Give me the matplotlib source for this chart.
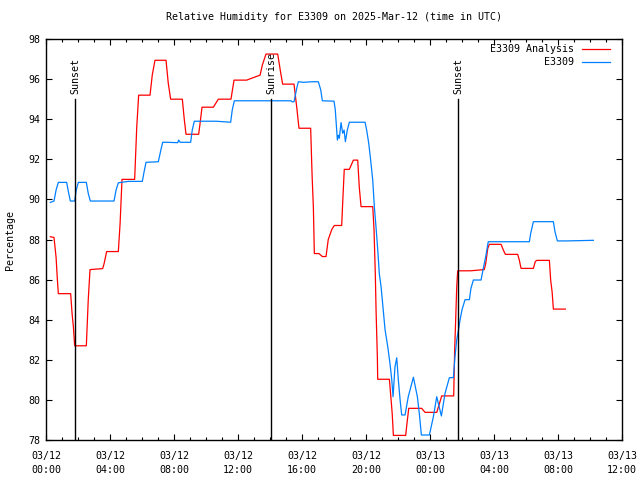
import matplotlib
matplotlib.use("Agg")
import matplotlib.pyplot as plt
from matplotlib.ticker import MultipleLocator

# ====================== 数据 ======================
TITLE = "Relative Humidity for E3309 on 2025-Mar-12 (time in UTC)"
Y_LABEL = "Percentage"

# hours since 03/12 00:00 UTC
analysis_hours = [0.27, 0.50, 0.63, 0.71, 0.77, 1.54, 1.63, 1.71, 1.79, 2.52,
                  2.64, 2.75, 3.54, 3.63, 3.79, 4.52, 4.63, 4.75, 5.54, 5.67,
                  5.79, 6.50, 6.64, 6.81, 7.50, 7.64, 7.79, 8.52, 8.64, 8.75,
                  9.54, 9.63, 9.75, 10.46, 10.77, 11.56, 11.75, 12.54, 13.38, 13.52,
                  13.75, 14.48, 14.67, 14.79, 15.50, 15.67, 15.81, 16.54, 16.63, 16.71,
                  16.77, 17.06, 17.27, 17.50, 17.64, 17.86, 18.02, 18.48, 18.54, 18.64,
                  18.96, 19.21, 19.48, 19.58, 19.69, 20.42, 20.50, 20.58, 20.63, 20.71,
                  20.73, 21.46, 21.56, 21.64, 21.71, 22.48, 22.56, 22.67, 23.48, 23.69,
                  24.42, 24.56, 24.73, 25.48, 25.54, 25.61, 25.67, 25.73, 26.54, 27.39,
                  27.48, 27.61, 27.71, 28.44, 28.58, 28.71, 29.48, 29.58, 29.69, 30.46,
                  30.58, 30.67, 31.46, 31.54, 31.63, 31.71, 32.46]
analysis_rh = [88.14, 88.10, 87.1, 86.0, 85.3, 85.3, 84.3, 83.65, 82.7, 82.7,
               85.0, 86.5, 86.55, 86.8, 87.4, 87.4, 88.8, 91.0, 91.0, 93.6,
               95.2, 95.2, 96.2, 96.94, 96.94, 95.8, 95.0, 95.0, 94.0, 93.25,
               93.25, 93.8, 94.6, 94.6, 95.0, 95.0, 95.95, 95.95, 96.2, 96.7,
               97.25, 97.25, 96.3, 95.75, 95.75, 94.6, 93.55, 93.55, 91.2, 89.6,
               87.3, 87.3, 87.15, 87.15, 88.0, 88.5, 88.7, 88.7, 89.8, 91.5,
               91.5, 91.96, 91.96, 90.6, 89.64, 89.64, 88.5, 86.3, 84.4, 82.1,
               81.03, 81.03, 80.08, 79.28, 78.23, 78.23, 78.83, 79.58, 79.58, 79.38,
               79.38, 79.74, 80.2, 80.2, 82.5, 84.15, 85.65, 86.44, 86.44, 86.5,
               86.8, 87.56, 87.76, 87.76, 87.48, 87.26, 87.26, 86.98, 86.56, 86.56,
               86.9, 86.96, 86.96, 85.98, 85.4, 84.53, 84.53]

obs_hours = [0.27, 0.50, 0.63, 0.77, 1.29, 1.42, 1.52, 1.79, 1.89, 2.02,
             2.52, 2.64, 2.77, 4.25, 4.38, 4.52, 5.14, 6.02, 6.13, 6.25,
             7.02, 7.16, 7.29, 7.54, 8.23, 8.29, 8.38, 9.04, 9.14, 9.27,
             10.63, 11.54, 11.64, 11.77, 15.31, 15.38, 15.50, 15.67, 15.77, 16.08,
             16.64, 17.02, 17.17, 17.27, 18.00, 18.08, 18.13, 18.21, 18.27, 18.33,
             18.44, 18.54, 18.63, 18.71, 18.83, 18.96, 19.94, 20.04, 20.17, 20.29,
             20.42, 20.52, 20.64, 20.75, 20.83, 20.94, 21.04, 21.19, 21.36, 21.50,
             21.61, 21.69, 21.81, 21.92, 22.02, 22.13, 22.23, 22.44, 22.64, 22.96,
             23.21, 23.33, 23.46, 23.96, 24.21, 24.42, 24.71, 24.94, 25.21, 25.46,
             25.56, 25.67, 25.77, 25.88, 26.00, 26.19, 26.46, 26.56, 26.71, 27.19,
             27.33, 27.48, 27.64, 30.21, 30.29, 30.46, 31.71, 31.81, 31.96, 32.54,
             34.21]
obs_rh = [89.85, 89.92, 90.47, 90.85, 90.85, 90.3, 89.92, 89.92, 90.47, 90.85,
          90.85, 90.3, 89.92, 89.92, 90.47, 90.83, 90.9, 90.9, 91.38, 91.85,
          91.88, 92.4, 92.85, 92.85, 92.83, 92.96, 92.85, 92.85, 93.46, 93.9,
          93.9, 93.85, 94.46, 94.92, 94.92, 94.87, 94.87, 95.54, 95.87, 95.84,
          95.87, 95.87, 95.46, 94.92, 94.9, 94.46, 93.88, 92.96, 93.2, 93.05,
          93.83, 93.3, 93.46, 92.88, 93.46, 93.85, 93.85, 93.46, 92.8, 91.96,
          90.97, 89.64, 88.47, 87.3, 86.3, 85.65, 84.8, 83.5, 82.65, 81.8,
          81.0, 80.16, 81.65, 82.1, 81.0, 80.0, 79.25, 79.25, 80.16, 81.13,
          80.16, 79.33, 78.25, 78.25, 79.16, 80.16, 79.2, 80.33, 81.11, 81.11,
          82.15, 83.0, 83.45, 84.0, 84.5, 85.0, 85.0, 85.57, 85.98, 85.98,
          86.56, 87.14, 87.89, 87.89, 88.3, 88.89, 88.89, 88.39, 87.93, 87.93,
          87.96]

sun_hours = [1.83, 14.08, 25.77]
sun_labels = ["Sunset", "Sunrise", "Sunset"]

x_tick_hours = [0, 4, 8, 12, 16, 20, 24, 28, 32, 36]
x_tick_labels = ["03/12\n00:00", "03/12\n04:00", "03/12\n08:00", "03/12\n12:00",
                 "03/12\n16:00", "03/12\n20:00", "03/13\n00:00", "03/13\n04:00",
                 "03/13\n08:00", "03/13\n12:00"]

series_names = ["E3309 Analysis", "E3309"]
series_colors = ["#ff0000", "#0080ff"]
# =================================================

FONT = "DejaVu Sans Mono"
FS = 7.2

fig = plt.figure(figsize=(6.4, 4.8), dpi=100)
ax = fig.add_axes([0.0719, 0.0833, 0.9, 0.8354])

ax.plot(analysis_hours, analysis_rh, color=series_colors[0], lw=0.9)
ax.plot(obs_hours, obs_rh, color=series_colors[1], lw=0.9)

# 日出日落竖线
trans = ax.get_xaxis_transform()
for h, lab in zip(sun_hours, sun_labels):
    ax.plot([h, h], [0, 0.85], color="black", lw=1.0, transform=trans)
    ax.text(h, 0.864, lab, rotation=90, ha="center", va="bottom",
            transform=trans, family=FONT, fontsize=FS)

# 图例（gnuplot 风格：文字在左，线在右）
for i, (name, col) in enumerate(zip(series_names, series_colors)):
    yy = 0.9743 - i * 0.0324
    ax.text(0.9167, yy, name, ha="right", va="center", transform=ax.transAxes,
            family=FONT, fontsize=FS)
    ax.plot([0.9306, 0.979], [yy, yy], color=col, lw=0.9, transform=ax.transAxes)

ax.set_xlim(0, 36)
ax.set_ylim(78, 98)
ax.set_xticks(x_tick_hours)
ax.set_xticklabels(x_tick_labels, family=FONT, fontsize=FS, linespacing=1.45)
ax.xaxis.set_minor_locator(MultipleLocator(1))
ax.yaxis.set_major_locator(MultipleLocator(2))
for lab in ax.get_yticklabels():
    lab.set_family(FONT)
    lab.set_fontsize(FS)

ax.tick_params(which="both", direction="in", top=True, right=True, width=0.8)
ax.tick_params(which="major", length=4)
ax.tick_params(which="minor", length=2)
ax.tick_params(axis="x", pad=8)
ax.tick_params(axis="y", pad=4)
for sp in ax.spines.values():
    sp.set_linewidth(1.0)

ax.set_ylabel(Y_LABEL, family=FONT, fontsize=FS, labelpad=10)
ax.set_title(TITLE, family=FONT, fontsize=FS, pad=14)

fig.savefig("out.png", dpi=100)
